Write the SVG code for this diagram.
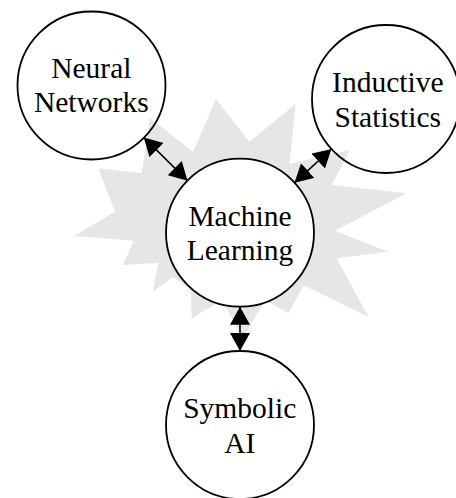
<svg xmlns="http://www.w3.org/2000/svg" width="456" height="498" viewBox="0 0 456 498">
  <style>
    .node { stroke: #000; stroke-width: 1.8; }
    .open { fill: none; }
    .solid { fill: #fff; }
    .label { font-family: "Liberation Serif", "Times New Roman", serif; font-size: 29.5px; fill: #000; text-anchor: middle; }
    .link { stroke: #000; stroke-width: 1.6; fill: none; marker-start: url(#head); marker-end: url(#head); }
  </style>
  <defs>
    <marker id="head" markerUnits="userSpaceOnUse" markerWidth="20" markerHeight="22" refX="18" refY="10" orient="auto-start-reverse">
      <path d="M0,0 L18,10 L0,20 Z" fill="#000"/>
    </marker>
  </defs>

  <!-- starburst backdrop -->
  <polygon id="burst" fill="#e6e6e6" points="216,99.3 249.3,141.7 295.7,104 289.3,164 350,150 331.7,185 406.7,193.3 335,230.7 388.3,251.7 336.7,258.3 368.3,316.7 304,285.5 288.3,313.3 265,300 243,338 222,300 191.7,318.3 191,289 173,277 152.7,291.7 158.3,262.7 122.7,265 134,240.7 74,236 115,211.7 98.3,168.3 141.7,173.3 150,118 193.3,151.7"/>

  <!-- connectors -->
  <g id="connectors">
    <line class="link" x1="143.8" y1="137.4" x2="187.5" y2="180.8"/>
    <line class="link" x1="331.5" y1="149" x2="294.5" y2="182.7"/>
    <line class="link" x1="240" y1="306.7" x2="240" y2="351"/>
  </g>

  <g id="neural-networks">
    <circle class="node open" cx="91.5" cy="85.5" r="74"/>
    <text class="label" x="91.3" y="77.7">Neural</text>
    <text class="label" x="91.3" y="112.3">Networks</text>
  </g>

  <g id="inductive-statistics">
    <circle class="node open" cx="386" cy="99" r="74"/>
    <text class="label" x="387.8" y="92">Inductive</text>
    <text class="label" x="387.8" y="126.7">Statistics</text>
  </g>

  <g id="machine-learning">
    <circle class="node solid" cx="240" cy="232.7" r="74"/>
    <text class="label" x="240" y="225.7">Machine</text>
    <text class="label" x="240" y="260">Learning</text>
  </g>

  <g id="symbolic-ai">
    <circle class="node open" cx="240" cy="425" r="74"/>
    <text class="label" x="239.7" y="418.3">Symbolic</text>
    <text class="label" x="239.7" y="453.3">AI</text>
  </g>
</svg>
